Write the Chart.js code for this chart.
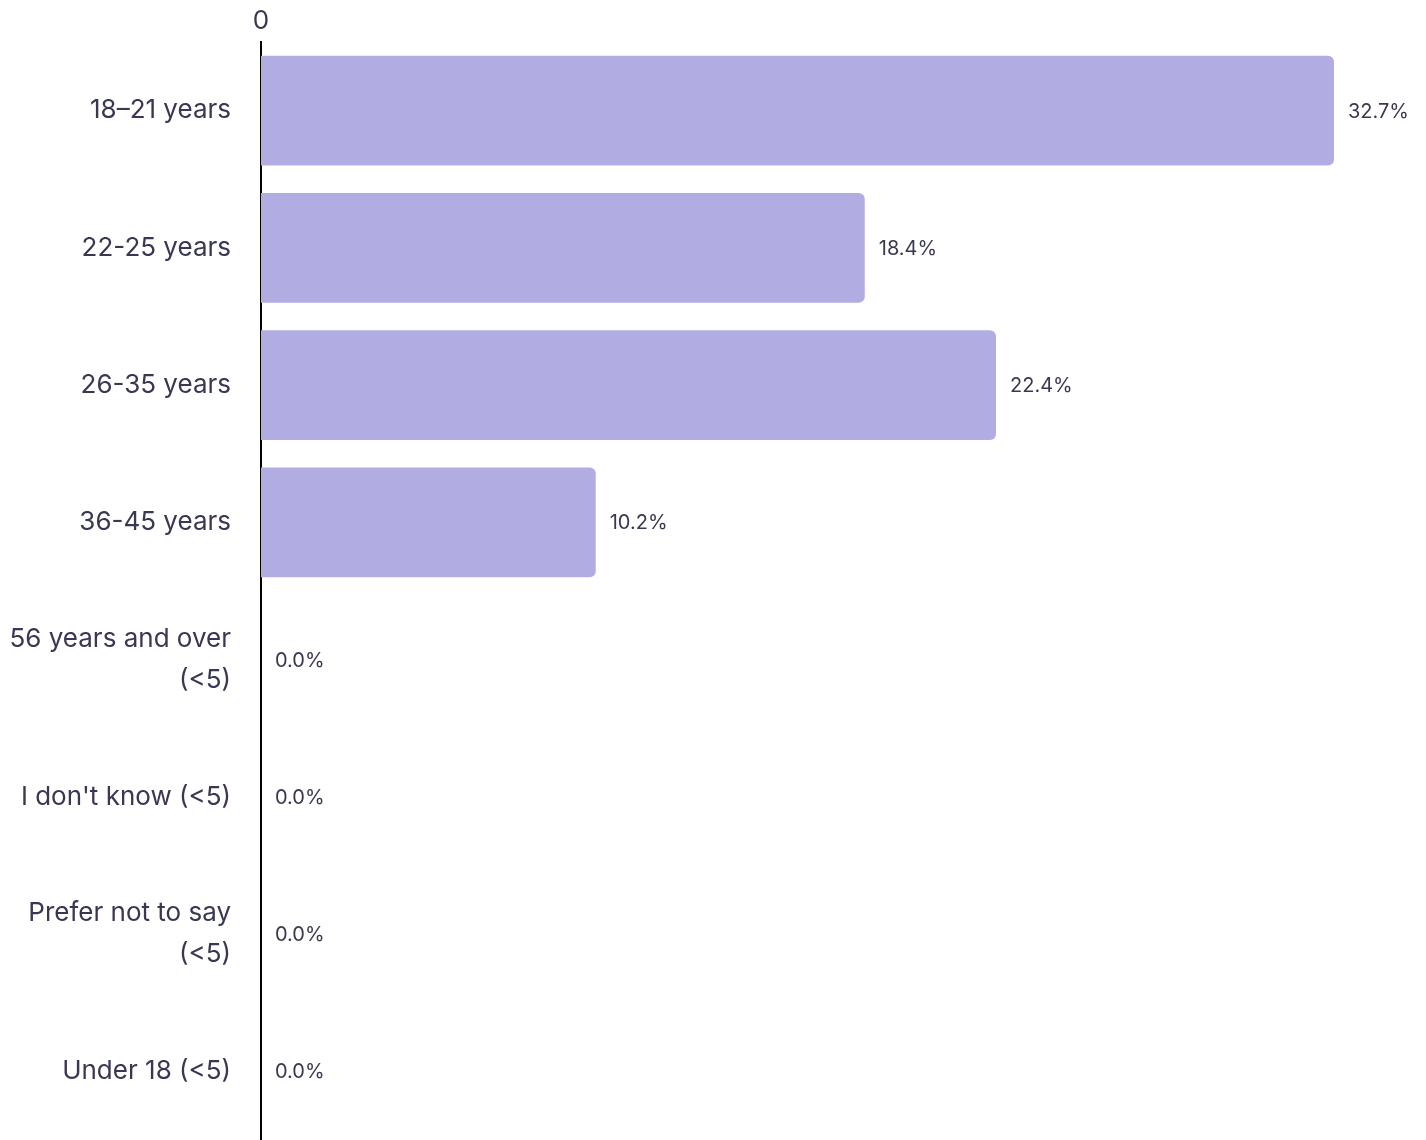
<!DOCTYPE html>
<html>
<head>
<meta charset="utf-8">
<script src="https://cdn.jsdelivr.net/npm/chart.js@4/dist/chart.umd.min.js"></script>
<style>
  html, body { margin: 0; padding: 0; background: #fff; }
  #wrap { width: 1426px; height: 1140px; position: relative; }
</style>
</head>
<body>
<div id="wrap"><canvas id="ageChart"></canvas></div>
<script>
const ageGroups = [
  '18–21 years',
  '22-25 years',
  '26-35 years',
  '36-45 years',
  ['56 years and over', '(<5)'],
  "I don't know (<5)",
  ['Prefer not to say', '(<5)'],
  'Under 18 (<5)'
];
const sharePct = [32.7, 18.4, 22.4, 10.2, 0.0, 0.0, 0.0, 0.0];
const xTicks = [0];

const textColor = '#383854';
const barColor = '#b1ade2';

// percentage labels at the end of each bar
const valueLabels = {
  id: 'valueLabels',
  afterDatasetsDraw(chart) {
    const { ctx } = chart;
    const meta = chart.getDatasetMeta(0);
    ctx.save();
    ctx.font = '20px Inter';
    ctx.fillStyle = textColor;
    ctx.textAlign = 'left';
    ctx.textBaseline = 'middle';
    meta.data.forEach((bar, i) => {
      ctx.fillText(sharePct[i].toFixed(1) + '%', bar.x + 14, bar.y + 1);
    });
    ctx.restore();
  }
};

new Chart(document.getElementById('ageChart').getContext('2d'), {
  type: 'bar',
  data: {
    labels: ageGroups,
    datasets: [{
      data: sharePct,
      backgroundColor: barColor,
      borderRadius: 6,
      borderSkipped: 'start',
      categoryPercentage: 0.8,
      barPercentage: 1.0
    }]
  },
  options: {
    indexAxis: 'y',
    responsive: true,
    maintainAspectRatio: false,
    animation: false,
    layout: { padding: { left: 0, right: 92, top: 0, bottom: 0 } },
    plugins: {
      legend: { display: false },
      tooltip: { enabled: false }
    },
    scales: {
      x: {
        position: 'top',
        min: 0,
        max: 32.7,
        afterBuildTicks: scale => { scale.ticks = xTicks.map(v => ({ value: v })); },
        afterFit: scale => { scale.height = 42; },
        grid: { display: false, drawTicks: false },
        border: { display: false },
        ticks: {
          color: textColor,
          font: { family: 'Inter', size: 26 },
          padding: 5
        }
      },
      y: {
        // fixed gutter for the labels, and no extra room above/below the bars
        afterFit: scale => {
          scale.width = 261;
          scale.paddingTop = 0;
          scale.paddingBottom = 0;
        },
        grid: { display: false, drawTicks: false },
        border: { display: true, color: '#000', width: 2 },
        ticks: {
          color: textColor,
          padding: 30,
          font: { family: 'Inter', size: 26, lineHeight: 1.58 }
        }
      }
    }
  },
  plugins: [valueLabels]
});
</script>
</body>
</html>
